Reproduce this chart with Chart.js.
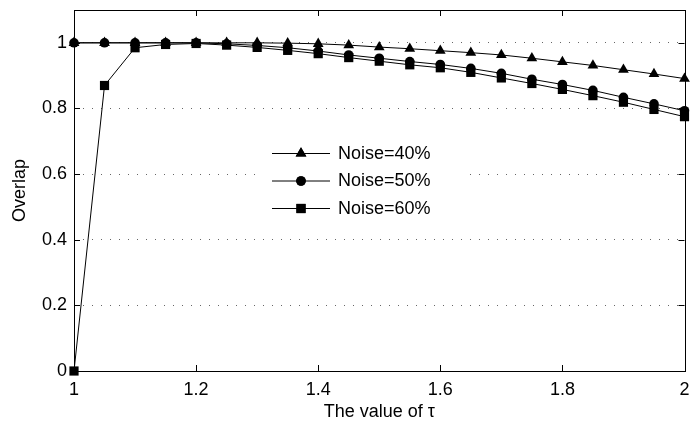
<!DOCTYPE html>
<html>
<head>
<meta charset="utf-8">
<script src="https://cdn.jsdelivr.net/npm/chart.js@4.4.1/dist/chart.umd.min.js"></script>
<style>
  html, body { margin: 0; padding: 0; background: #fff; }
  #wrap { width: 691px; height: 426px; }
</style>
</head>
<body>
<div id="wrap"><canvas id="overlapChart" width="691" height="426"></canvas></div>
<script>
// tau values and overlap per noise level
var tauVals = [1, 1.05, 1.1, 1.15, 1.2, 1.25, 1.3, 1.35, 1.4, 1.45, 1.5, 1.55, 1.6, 1.65, 1.7, 1.75, 1.8, 1.85, 1.9, 1.95, 2];
var noise40 = [1, 1, 1, 1, 1, 1, 1, 0.999, 0.997, 0.993, 0.987, 0.982, 0.976, 0.970, 0.963, 0.953, 0.942, 0.931, 0.918, 0.905, 0.891];
var noise50 = [1, 1, 1, 1, 1, 0.997, 0.992, 0.985, 0.975, 0.963, 0.953, 0.943, 0.934, 0.922, 0.907, 0.889, 0.873, 0.855, 0.834, 0.814, 0.793];
var noise60 = [0, 0.87, 0.985, 0.995, 0.998, 0.993, 0.986, 0.977, 0.967, 0.955, 0.944, 0.933, 0.924, 0.910, 0.893, 0.876, 0.858, 0.839, 0.819, 0.797, 0.775];

var seriesLabels = ['Noise=40%', 'Noise=50%', 'Noise=60%'];
var xTicks = [1, 1.2, 1.4, 1.6, 1.8, 2];
var yTicks = [0, 0.2, 0.4, 0.6, 0.8, 1];

var FONT = "'Liberation Sans', Arial, sans-serif";

function toPoints(ys) {
  return ys.map(function(y, i) { return { x: tauVals[i], y: y }; });
}

// box + inward ticks, like the matlab axes
var boxPlugin = {
  id: 'boxPlugin',
  beforeDatasetsDraw: function(chart) {
    var ctx = chart.ctx, a = chart.chartArea;
    var sx = chart.scales.x, sy = chart.scales.y;
    var tl = 6;
    ctx.save();
    ctx.strokeStyle = '#000';
    ctx.lineWidth = 1;
    ctx.beginPath();
    xTicks.forEach(function(t) {
      var px = Math.round(sx.getPixelForValue(t)) + 0.5;
      ctx.moveTo(px, a.bottom); ctx.lineTo(px, a.bottom - tl);
      ctx.moveTo(px, a.top); ctx.lineTo(px, a.top + tl);
    });
    yTicks.forEach(function(t) {
      var py = Math.round(sy.getPixelForValue(t)) + 0.5;
      ctx.moveTo(a.left, py); ctx.lineTo(a.left + tl, py);
      ctx.moveTo(a.right, py); ctx.lineTo(a.right - tl, py);
    });
    ctx.stroke();
    ctx.strokeRect(Math.round(a.left) + 0.5, Math.round(a.top) + 0.5,
      Math.round(a.right - a.left), Math.round(a.bottom - a.top));
    ctx.restore();
  }
};

// legend drawn inside the plot
var legendPlugin = {
  id: 'innerLegend',
  afterDatasetsDraw: function(chart) {
    var ctx = chart.ctx;
    var rowY = [153, 180.5, 208];
    ctx.save();
    ctx.fillStyle = '#fff';
    ctx.fillRect(262, 140, 200, 80);
    chart.data.datasets.forEach(function(ds, i) {
      var y = rowY[i];
      ctx.strokeStyle = '#000';
      ctx.lineWidth = 1;
      ctx.beginPath();
      ctx.moveTo(272, y + 0.5);
      ctx.lineTo(330, y + 0.5);
      ctx.stroke();
      ctx.fillStyle = '#000';
      Chart.helpers.drawPoint(ctx, {
        pointStyle: ds.pointStyle, radius: ds.pointRadius, borderWidth: 0, rotation: 0
      }, 301, y + 0.5);
      ctx.fill();
      ctx.fillStyle = '#000';
      ctx.font = '18px ' + FONT;
      ctx.textBaseline = 'middle';
      ctx.textAlign = 'left';
      ctx.fillText(ds.label, 338, y + 1);
    });
    ctx.restore();
  }
};

var styles = [
  { pointStyle: 'triangle', pointRadius: 6.2 },
  { pointStyle: 'circle', pointRadius: 4.8 },
  { pointStyle: 'rect', pointRadius: 6.5 }
];

var allSeries = [noise40, noise50, noise60];

var chart = new Chart(document.getElementById('overlapChart'), {
  type: 'line',
  data: {
    datasets: allSeries.map(function(s, i) {
      return {
        label: seriesLabels[i],
        data: toPoints(s),
        borderColor: '#000',
        borderWidth: 1,
        backgroundColor: '#000',
        pointBackgroundColor: '#000',
        pointBorderColor: '#000',
        pointBorderWidth: 0,
        pointStyle: styles[i].pointStyle,
        pointRadius: styles[i].pointRadius,
        tension: 0,
        clip: false
      };
    })
  },
  options: {
    responsive: false,
    animation: false,
    events: [],
    layout: { padding: { top: 10, right: 4, left: 0, bottom: 0 } },
    plugins: {
      legend: { display: false },
      tooltip: { enabled: false }
    },
    scales: {
      x: {
        type: 'linear',
        min: 1, max: 2,
        afterBuildTicks: function(s) { s.ticks = xTicks.map(function(v) { return { value: v }; }); },
        afterFit: function(s) { s.height = 55; s.paddingLeft = 0; s.paddingRight = 0; },
        grid: { display: false, drawTicks: false },
        border: { display: false },
        ticks: {
          color: '#000',
          padding: 8,
          maxRotation: 0,
          font: { family: FONT, size: 18 },
          callback: function(v) { return String(+v.toFixed(1)); }
        },
        title: {
          display: true,
          text: 'The value of τ',
          color: '#000',
          font: { family: FONT, size: 18 },
          padding: { top: 0, bottom: 3 }
        }
      },
      y: {
        type: 'linear',
        min: 0, max: 1.1,
        afterBuildTicks: function(s) { s.ticks = yTicks.map(function(v) { return { value: v }; }); },
        afterFit: function(s) { s.width = 74; s.paddingTop = 0; s.paddingBottom = 0; },
        grid: { color: '#666', lineWidth: 1, drawTicks: false },
        border: { display: false, dash: [1, 8] },
        ticks: {
          color: '#000',
          padding: 7,
          font: { family: FONT, size: 18 },
          callback: function(v) { return String(+v.toFixed(1)); }
        },
        title: {
          display: true,
          text: 'Overlap',
          color: '#000',
          font: { family: FONT, size: 18 },
          padding: { top: 9, bottom: 0 }
        }
      }
    }
  },
  plugins: [boxPlugin, legendPlugin]
});
</script>
</body>
</html>
